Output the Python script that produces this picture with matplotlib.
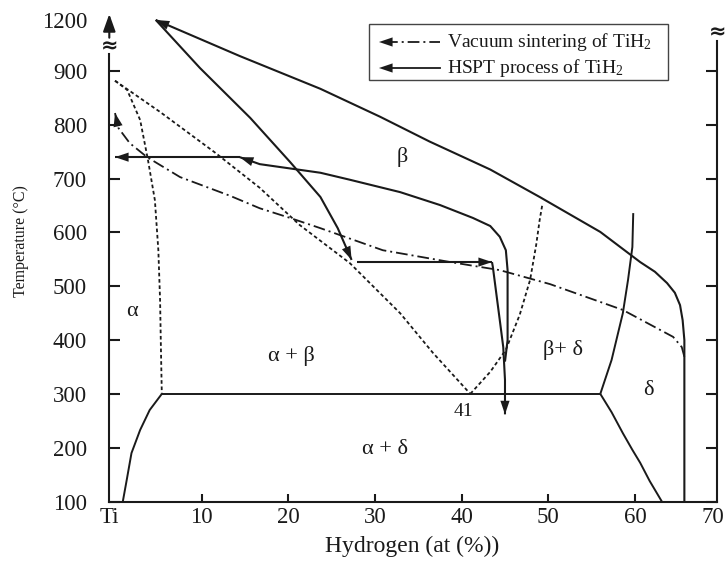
import numpy as np
import matplotlib.pyplot as plt
from matplotlib.patches import Rectangle, FancyArrowPatch
from matplotlib.lines import Line2D

plt.rcParams.update({
    'font.family': 'serif',
    'font.serif': ['Liberation Serif', 'DejaVu Serif'],
    'mathtext.fontset': 'custom',
    'mathtext.rm': 'Liberation Serif',
    'mathtext.it': 'Liberation Serif:italic',
    'axes.linewidth': 1.5,
})

INK = '#1a1a1a'

# ---- phase boundaries (Ti-H), x = at% H, T = degC ----
alpha_ab_x = [0, 1.4, 2.9, 3.8, 4.6, 5.0, 5.2, 5.3, 5.4]
alpha_ab_T = [882, 865, 809, 735, 660, 567, 474, 382, 300]

ab_beta_x = [0, 5.2, 11.5, 16.7, 21.3, 27.1, 32.9, 36.7, 41]
ab_beta_T = [882, 824, 749, 683, 614, 543, 450, 376, 300]

beta_bd_x = [41, 43.3, 45.1, 46.7, 47.9, 48.6, 49.0, 49.3]
beta_bd_T = [300, 341, 382, 447, 512, 577, 623, 651]

delta_bd_x = [56.0, 57.3, 58.6, 59.2, 59.7, 59.8]
delta_bd_T = [300, 363, 450, 512, 573, 636]

delta_ad_x = [56.0, 57.3, 58.6, 59.7, 60.6, 61.7, 63.1]
delta_ad_T = [300, 266, 227, 196, 172, 138, 100]

alpha_ad_x = [0.9, 1.35, 1.9, 2.9, 4.0, 5.4]
alpha_ad_T = [100, 140, 190, 233, 270, 300]

eutectoid_x = [5.4, 56.0]
eutectoid_T = [300, 300]

# ---- process paths ----
hspt_heat_x = [65.7, 65.7, 65.5, 65.2, 64.6, 63.7, 62.3, 60.6, 56.0, 49.0, 43.3,
               36.3, 30.6, 23.7, 14.4, 4.7]
hspt_heat_T = [100, 400, 437, 465, 488, 506, 527, 545, 601, 666, 717,
               769, 815, 867, 988, 1200]

hspt_cool_x = [4.7, 9.8, 15.6, 20.2, 23.7, 25.7, 27.3]
hspt_cool_T = [1200, 918, 813, 731, 666, 608, 549]

hydro_x = [27.9, 43.5]
hydro_T = [545, 545]

cool2_x = [43.5, 43.6, 44.1, 44.4, 44.8, 45.0, 45.0]
cool2_T = [545, 536, 474, 437, 387, 326, 262]

dehyd_x = [45.0, 45.3, 45.3, 45.3, 45.1, 44.4, 43.3, 41.3, 37.5, 32.9, 27.1, 23.7, 16.7, 14.4]
dehyd_T = [360, 400, 474, 530, 567, 592, 612, 627, 651, 675, 698, 711, 727, 740]

final_x = [14.4, 0.0]
final_T = [740, 740]

vac_x = [65.7, 65.4, 64.4, 58.6, 50.2, 44.4, 38.7, 30.9, 23.7, 20.2, 16.7, 13.3, 7.5, 3.7, 1.7, 0.4, 0]
vac_T = [369, 387, 406, 456, 504, 530, 545, 567, 608, 627, 645, 668, 703, 740, 766, 794, 822]

y_ticks = [100, 200, 300, 400, 500, 600, 700, 800, 900]
x_ticks = [10, 20, 30, 40, 50, 60]


# broken temperature axis: 900..1200 squeezed into 900..995
def td(t):
    t = np.asarray(t, dtype=float)
    return np.where(t <= 900, t, 900 + (t - 900) * 95.0 / 300.0)


fig = plt.figure(figsize=(7.26, 5.63), dpi=100)
ax = fig.add_axes([109.3 / 726, 61.5 / 563, 608 / 726, 490.7 / 563])
ax.set_xlim(-0.66, 69.5)
ax.set_ylim(100, 1012)

dotted = (0, (2.0, 1.5))
dashdot = (0, (6.5, 2.2, 1.1, 2.2))


def line(xs, Ts, ls='-', lw=1.5):
    ax.plot(xs, td(Ts), color=INK, lw=lw, ls=ls, clip_on=False,
            solid_capstyle='butt', dash_capstyle='butt', solid_joinstyle='round')


def head(xs, Ts):
    ax.annotate('', xy=(xs[-1], float(td(Ts[-1]))),
                xytext=(xs[-2], float(td(Ts[-2]))),
                arrowprops=dict(arrowstyle='-|>,head_length=0.65,head_width=0.22',
                                color=INK, lw=0.01, shrinkA=0, shrinkB=0,
                                mutation_scale=15),
                annotation_clip=False)


# phase boundaries
for xs, Ts in [(alpha_ab_x, alpha_ab_T), (ab_beta_x, ab_beta_T), (beta_bd_x, beta_bd_T)]:
    line(xs, Ts, ls=dotted, lw=1.3)
for xs, Ts in [(delta_bd_x, delta_bd_T), (delta_ad_x, delta_ad_T),
               (alpha_ad_x, alpha_ad_T), (eutectoid_x, eutectoid_T)]:
    line(xs, Ts, lw=1.4)

# HSPT process
for xs, Ts in [(hspt_heat_x, hspt_heat_T), (hspt_cool_x, hspt_cool_T),
               (hydro_x, hydro_T), (cool2_x, cool2_T),
               (dehyd_x, dehyd_T), (final_x, final_T)]:
    line(xs, Ts)
    head(xs, Ts)

# vacuum sintering
line(vac_x, vac_T, ls=dashdot, lw=1.3)
head(vac_x, vac_T)

# region labels
lab = dict(ha='center', va='center', fontsize=16, color=INK)
ax.text(1.9, 453, 'α', **lab)
ax.text(20.3, 370, 'α + β', **lab)
ax.text(33.2, 740, 'β', **lab)
ax.text(51.7, 382, 'β+ δ', **lab)
ax.text(61.5, 307, 'δ', **lab)
ax.text(31.2, 196, 'α + δ', **lab)
ax.text(40.2, 268, '41', ha='center', va='center', fontsize=14, color=INK)

# axes styling
ax.spines['top'].set_visible(False)
ax.spines['left'].set_bounds(100, 932)
ax.spines['right'].set_bounds(100, 955)
for s in ax.spines.values():
    s.set_color(INK)

ax.set_yticks(y_ticks + [995])
ax.set_yticklabels([str(v) for v in y_ticks] + ['1200'])
ax.set_xticks([-0.6] + x_ticks + [69.0])
ax.set_xticklabels(['Ti'] + [str(v) for v in x_ticks] + ['70'])
ax.tick_params(axis='y', direction='in', length=8, width=1.5, right=True,
               labelsize=16.5, pad=16, colors=INK)
ax.tick_params(axis='x', direction='in', length=6, width=1.5,
               labelsize=16.5, pad=4, colors=INK)
for t in (ax.yaxis.get_major_ticks()[-1], ax.xaxis.get_major_ticks()[0],
          ax.xaxis.get_major_ticks()[-1]):
    t.tick1line.set_visible(False)
    t.tick2line.set_visible(False)

# axis breaks and arrow on the temperature axis
ax.text(-0.66, 946, '≈', family='DejaVu Sans', fontweight='bold', fontsize=15,
        ha='center', va='center', color=INK, clip_on=False)
ax.text(69.5, 972, '≈', family='DejaVu Sans', fontweight='bold', fontsize=15,
        ha='center', va='center', color=INK, clip_on=False)
ax.annotate('', xy=(-0.66, 1006), xytext=(-0.66, 962),
            arrowprops=dict(arrowstyle='-|>,head_length=0.7,head_width=0.25',
                            color=INK, lw=1.5, shrinkA=0, shrinkB=0,
                            mutation_scale=15),
            annotation_clip=False)

fig.text(412 / 726, 1 - 546 / 563, 'Hydrogen (at (%))', ha='center', va='center',
         fontsize=17, color=INK)
fig.text(21 / 726, 1 - 241 / 563, 'Temperature (°C)', ha='center', va='center',
         rotation=90, fontsize=11.5, color=INK)


# legend drawn in figure pixels
def fp(px, py):
    return px / 726, 1 - py / 563


x0, y0 = fp(369, 80)
x1, y1 = fp(668, 24)
fig.patches.append(Rectangle((x0, y0), x1 - x0, y1 - y0, transform=fig.transFigure,
                             fill=False, lw=1.0, ec='#444444'))
legend_rows = [(42, dashdot, 'Vacuum sintering of TiH$_2$'),
               (68, '-', 'HSPT process of TiH$_2$')]
for py, ls, txt in legend_rows:
    a, b = fp(386, py)
    c, _ = fp(440, py)
    fig.lines.append(Line2D([a, c], [b, b], transform=fig.transFigure,
                            color=INK, lw=1.3, ls=ls))
    tip, _ = fp(379, py)
    fig.add_artist(FancyArrowPatch(
        (a + 0.004, b), (tip, b), transform=fig.transFigure,
        arrowstyle='-|>,head_length=0.65,head_width=0.22', mutation_scale=15,
        color=INK, lw=0.01, shrinkA=0, shrinkB=0))
    tx, _ = fp(447, py)
    fig.text(tx, b, txt, ha='left', va='center', fontsize=14, color=INK)

fig.savefig('out.png', dpi=100)
